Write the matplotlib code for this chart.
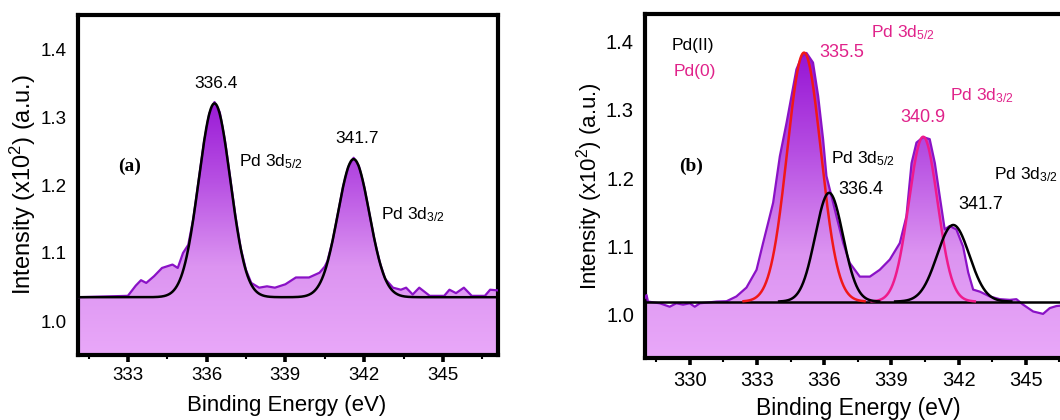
import matplotlib
matplotlib.use("Agg")
import matplotlib.pyplot as plt
import numpy as np
from matplotlib.colors import LinearSegmentedColormap

plt.rcParams['font.family'] = ['Liberation Sans', 'DejaVu Sans']
plt.rcParams['mathtext.fontset'] = 'custom'
plt.rcParams['mathtext.rm'] = 'Liberation Sans'
plt.rcParams['mathtext.it'] = 'Liberation Sans:italic'

# ---- panel (a): measured spectrum (binding energy, intensity x10^2)
xa = [331.1, 333.0, 333.3, 333.5, 333.7, 334.0, 334.3, 334.7, 334.9, 335.1,
      335.3, 335.5, 335.7, 335.9, 336.1, 336.3, 336.5, 336.7, 336.9, 337.1,
      337.3, 337.5, 337.7, 338.0, 338.3, 338.6, 339.0, 339.2, 339.4, 339.9,
      340.3, 340.5, 340.6, 340.8, 341.0, 341.2, 341.4, 341.6, 341.8, 342.0,
      342.2, 342.4, 342.6, 342.8, 343.1, 343.4, 343.6, 343.85, 344.1, 344.5,
      345.05, 345.25, 345.5, 345.8, 346.1, 346.6, 346.8, 347.1]
ya = [1.035, 1.037, 1.052, 1.060, 1.056, 1.066, 1.078, 1.083, 1.078, 1.100,
      1.112, 1.152, 1.208, 1.263, 1.305, 1.322, 1.307, 1.265, 1.210, 1.154,
      1.107, 1.075, 1.056, 1.049, 1.051, 1.049, 1.054, 1.059, 1.064, 1.064,
      1.071, 1.080, 1.088, 1.118, 1.158, 1.198, 1.227, 1.240, 1.228, 1.198,
      1.158, 1.118, 1.086, 1.062, 1.049, 1.046, 1.049, 1.039, 1.049, 1.037,
      1.037, 1.046, 1.041, 1.049, 1.037, 1.037, 1.046, 1.045]
base_a = 1.035
# fitted components (a): centre, height above baseline, sigma
fit_a = [(336.3, 0.285, 0.60), (341.6, 0.203, 0.60)]

# ---- panel (b)
xb = [328.0, 328.07, 328.13, 328.66, 329.1, 329.4, 329.7, 330.0, 330.22, 330.45,
      330.75, 331.2, 331.64, 332.08, 332.53, 332.98, 333.27, 333.5, 333.72, 334.02,
      334.32, 334.54, 334.76, 335.0, 335.21, 335.5, 335.73, 335.95, 336.1, 336.33,
      336.55, 336.85, 337.14, 337.59, 338.04, 338.48, 338.93, 339.375, 339.67, 339.9,
      340.12, 340.42, 340.71, 340.94, 341.16, 341.38, 341.6, 341.9, 342.2, 342.43,
      342.65, 342.95, 343.39, 343.84, 344.29, 344.58, 344.88, 345.33, 345.77, 346.07,
      346.37, 346.7]
yb = [1.025, 1.029, 1.0195, 1.017, 1.012, 1.017, 1.015, 1.017, 1.012, 1.017,
      1.018, 1.0195, 1.020, 1.027, 1.040, 1.066, 1.105, 1.135, 1.164, 1.232,
      1.281, 1.320, 1.359, 1.378, 1.383, 1.369, 1.320, 1.257, 1.203, 1.173,
      1.144, 1.105, 1.076, 1.056, 1.056, 1.066, 1.081, 1.105, 1.144, 1.222,
      1.252, 1.260, 1.257, 1.222, 1.173, 1.125, 1.130, 1.125, 1.100, 1.062,
      1.037, 1.034, 1.027, 1.023, 1.022, 1.023, 1.015, 1.005, 1.0015, 1.010,
      1.013, 1.014]
base_b = 1.0195
# Pd(0) components and Pd(II) components: centre, height, sigma, colour
fit_b = [(335.1, 0.364, 0.75, '#f01818'),
         (340.42, 0.241, 0.64, '#ef1a8c'),
         (336.22, 0.159, 0.62, 'black'),
         (341.76, 0.112, 0.72, 'black')]

cmap = LinearSegmentedColormap.from_list('pdfill', ['#e9a8f9', '#dc94f1', '#b64ee2', '#9512d4'])
line_col = '#8a12c6'
pink = '#e0228a'


def gauss(x, c, h, s):
    return h * np.exp(-(x - c) ** 2 / (2 * s * s))


def style_axes(ax, xlim, ylim, major, minor, fs):
    ax.set_xlim(*xlim)
    ax.set_ylim(*ylim)
    ax.set_xticks(major)
    ax.set_xticks(minor, minor=True)
    ax.set_yticks([1.0, 1.1, 1.2, 1.3, 1.4])
    ax.tick_params(axis='x', which='major', direction='out', length=5, width=2.6,
                   labelsize=fs, pad=4)
    ax.tick_params(axis='x', which='minor', direction='out', length=3, width=1.5)
    ax.tick_params(axis='y', which='both', length=0, labelsize=fs, pad=8)
    for sp in ax.spines.values():
        sp.set_linewidth(3)


def gradient_fill(ax, x, y, ylim, ytop):
    poly = ax.fill_between(x, y, ylim[0], color='none', lw=0)
    xl = ax.get_xlim()
    grad = np.linspace(0, 1, 256).reshape(-1, 1)
    im = ax.imshow(grad, cmap=cmap, origin='lower', aspect='auto',
                   extent=[xl[0], xl[1], ylim[0], ytop], zorder=1)
    path = poly.get_paths()[0]
    im.set_clip_path(path, transform=ax.transData)
    ax.set_xlim(*xl)
    ax.set_ylim(*ylim)


fig = plt.figure(figsize=(10.6, 4.2), dpi=100)

# ---------------- (a)
ax1 = fig.add_axes([78 / 1060, 1 - 355 / 420, 420 / 1060, 340 / 420])
ylim_a = (0.95, 1.45)
style_axes(ax1, (331.1, 347.1), ylim_a, [333, 336, 339, 342, 345],
           [331.5, 334.5, 337.5, 340.5, 343.5, 346.5], 13.5)
gradient_fill(ax1, xa, ya, ylim_a, 1.34)
ax1.plot(xa, ya, color=line_col, lw=1.6, zorder=3)
xf = np.linspace(331.1, 347.1, 600)
env = base_a + sum(gauss(xf, c, h, s) for c, h, s in fit_a)
ax1.plot(xf, env, color='black', lw=1.8, zorder=4)

ax1.text(336.34, 1.349, '336.4', ha='center', va='center', fontsize=12.5)
ax1.text(341.73, 1.269, '341.7', ha='center', va='center', fontsize=12.5)
ax1.text(337.24, 1.235, 'Pd 3d$_{5/2}$', ha='left', va='center', fontsize=12.5)
ax1.text(342.63, 1.157, 'Pd 3d$_{3/2}$', ha='left', va='center', fontsize=12.5)
ax1.text(332.64, 1.228, '(a)', ha='left', va='center', fontsize=14,
         family='Liberation Serif', weight='bold')
fig.text(23 / 1060, 1 - 185 / 420, 'Intensity (x10$^2$) (a.u.)', rotation=90,
         ha='center', va='center', fontsize=17)
fig.text(287 / 1060, 1 - 405 / 420, 'Binding Energy (eV)', ha='center',
         va='center', fontsize=16)

# ---------------- (b)
ax2 = fig.add_axes([645 / 1060, 1 - 358 / 420, 448 / 1060, 344 / 420])
ylim_b = (0.937, 1.44)
style_axes(ax2, (328.0, 348.0), ylim_b, [330, 333, 336, 339, 342, 345],
           [328.5, 331.5, 334.5, 337.5, 340.5, 343.5, 346.5], 14.5)
gradient_fill(ax2, xb, yb, ylim_b, 1.39)
ax2.plot(xb, yb, color=line_col, lw=1.6, zorder=3)
ax2.axhline(base_b, color='black', lw=1.8, zorder=4)
for c, h, s, col in fit_b:
    xs = np.linspace(c - 3.6 * s, c + 3.6 * s, 300)
    ax2.plot(xs, base_b + gauss(xs, c, h, s), color=col, lw=1.8, zorder=5)

ax2.text(329.18, 1.394, 'Pd(II)', ha='left', va='center', fontsize=12.5)
ax2.text(329.26, 1.356, 'Pd(0)', ha='left', va='center', fontsize=12.5, color=pink)
ax2.text(335.8, 1.384, '335.5', ha='left', va='center', fontsize=13, color=pink)
ax2.text(338.08, 1.412, 'Pd 3d$_{5/2}$', ha='left', va='center', fontsize=12.5, color=pink)
ax2.text(339.4, 1.289, '340.9', ha='left', va='center', fontsize=13, color=pink)
ax2.text(341.6, 1.320, 'Pd 3d$_{3/2}$', ha='left', va='center', fontsize=12.5, color=pink)
ax2.text(336.32, 1.229, 'Pd 3d$_{5/2}$', ha='left', va='center', fontsize=12.5)
ax2.text(336.62, 1.183, '336.4', ha='left', va='center', fontsize=13)
ax2.text(343.57, 1.205, 'Pd 3d$_{3/2}$', ha='left', va='center', fontsize=12.5)
ax2.text(341.98, 1.161, '341.7', ha='left', va='center', fontsize=13)
ax2.text(329.52, 1.217, '(b)', ha='left', va='center', fontsize=14,
         family='Liberation Serif', weight='bold')
fig.text(590 / 1060, 1 - 186 / 420, 'Intensity (x10$^2$) (a.u.)', rotation=90,
         ha='center', va='center', fontsize=16)
fig.text(858 / 1060, 1 - 408 / 420, 'Binding Energy (eV)', ha='center',
         va='center', fontsize=16.5)

fig.savefig('out.png', dpi=100)
